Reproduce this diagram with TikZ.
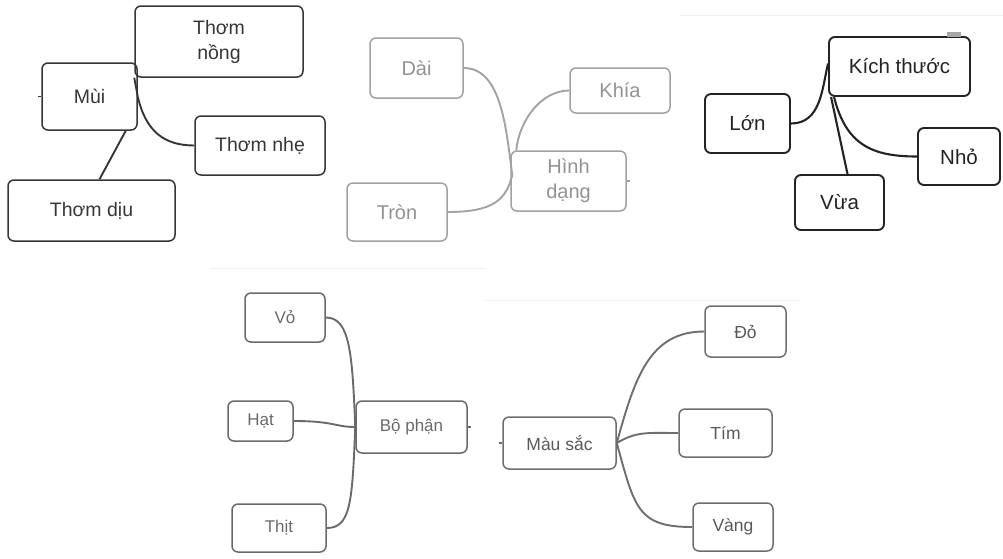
\documentclass[tikz,border=0pt]{standalone}
\usepackage{fontspec}
\setmainfont{Liberation Sans}
\usetikzlibrary{calc}
\definecolor{cA}{HTML}{363636}
\definecolor{cB}{HTML}{A2A2A2}
\definecolor{cC}{HTML}{232323}
\definecolor{cD}{HTML}{6A6A6A}
\definecolor{cE}{HTML}{6E6E6E}
\tikzset{
  box/.style={draw, rounded corners=6pt, inner sep=0pt, align=center, line width=1.5pt},
  gA/.style={box, draw=cA, text=cA, font=\fontsize{19.5}{25}\selectfont},
  gB/.style={box, draw=cB, text=cB!90!black, font=\fontsize{20}{25}\selectfont},
  gC/.style={box, draw=cC, text=cC, line width=1.9pt, font=\fontsize{20.5}{24}\selectfont},
  gD/.style={box, draw=cD, text=cD, font=\fontsize{17}{20}\selectfont},
  gE/.style={box, draw=cE, text=cE!80!black, font=\fontsize{17.5}{20}\selectfont},
  lA/.style={draw=cA, line width=1.9pt},
  lB/.style={draw=cB, line width=1.9pt},
  lC/.style={draw=cC, line width=2.1pt},
  lD/.style={draw=cD, line width=1.9pt},
  lE/.style={draw=cE, line width=1.9pt},
  faint/.style={draw=black!6, line width=0.8pt}
}
\begin{document}
\begin{tikzpicture}[x=1pt,y=-1pt]
\useasboundingbox (0,0) rectangle (1003,558);
% faint separators
\draw[faint] (680,15) -- (1003,15);
\draw[faint] (210,268) -- (485,268);
\draw[faint] (485,300) -- (800,300);

% ---- Group 1: Mui
\node[gA, minimum width=95pt, minimum height=67pt] (mui) at (89.5,96.5) {Mùi};
\node[gA, minimum width=168pt, minimum height=71pt] (tnong) at (219,41.5) {Thơm\\nồng};
\node[gA, minimum width=130pt, minimum height=59pt] (tnhe) at (260,145.5) {Thơm nhẹ};
\node[gA, minimum width=167pt, minimum height=61pt] (tdiu) at (91.5,210.5) {Thơm dịu};
\draw[lA] (mui.east) -- (tnong.south west);
\draw[lA] (mui.east) .. controls +(8,35) and +(-30,0) .. (tnhe.west);
\draw[lA] ($(mui.south east)+(-12,0)$) -- ($(tdiu.north)+(8,0)$);
\draw[lA] (mui.west) -- +(-3,0);

% ---- Group 2: Hinh dang
\node[gB, minimum width=93pt, minimum height=60pt] (dai) at (416.5,68) {Dài};
\node[gB, minimum width=100pt, minimum height=45pt] (khia) at (620,90.5) {Khía};
\node[gB, minimum width=115pt, minimum height=60pt] (hd) at (568.5,181) {Hình\\dạng};
\node[gB, minimum width=100pt, minimum height=58pt] (tron) at (397,212) {Tròn};
\coordinate (hdin) at ($(hd.west)+(2,-6)$);
\draw[lB] (dai.east) .. controls +(38,0) and +(-6,-45) .. (hdin);
\draw[lB] (khia.west) .. controls +(-28,0) and +(3,-30) .. ($(hd.north west)+(6,0)$);
\draw[lB] (tron.east) .. controls +(45,0) and +(-6,25) .. (hdin);
\draw[lB] (hd.east) -- +(3,0);

% ---- Group 3: Kich thuoc
\node[gC, minimum width=141pt, minimum height=59pt] (kt) at (899.5,66.5) {Kích thước};
\node[gC, minimum width=85pt, minimum height=59pt] (lon) at (747.5,123.5) {Lớn};
\node[gC, minimum width=82pt, minimum height=57pt] (nho) at (959,156.5) {Nhỏ};
\node[gC, minimum width=89pt, minimum height=55pt] (vua) at (839.5,202.5) {Vừa};
\fill[black!35] (947,32) rectangle (961,36.5);
\draw[lC] (lon.east) .. controls +(30,0) and +(-6,25) .. ($(kt.west)+(0,-3)$);
\draw[lC] ($(kt.south west)+(6,0)$) .. controls +(12,48) and +(-45,0) .. (nho.west);
\draw[lC] ($(kt.south west)+(3,0)$) -- ($(vua.north)+(8,0)$);

% ---- Group 4: Bo phan
\node[gD, minimum width=80pt, minimum height=49pt] (vo) at (285,317.5) {Vỏ};
\node[gD, minimum width=65pt, minimum height=40pt] (hat) at (260.5,421) {Hạt};
\node[gD, minimum width=111pt, minimum height=52pt] (bp) at (411.5,427) {Bộ phận};
\node[gD, minimum width=94pt, minimum height=48pt] (thit) at (279,528) {Thịt};
\draw[lD] (vo.east) .. controls +(24,0) and +(-3,-75) .. (bp.west);
\draw[lD] (hat.east) .. controls +(40,0) and +(-20,0) .. (bp.west);
\draw[lD] (thit.east) .. controls +(24,0) and +(-3,75) .. (bp.west);
\draw[lD] (bp.east) -- +(3,0);

% ---- Group 5: Mau sac
\node[gE, minimum width=113pt, minimum height=52pt] (ms) at (559.5,443) {Màu sắc};
\node[gE, minimum width=81pt, minimum height=51pt] (do) at (745.5,331.5) {Đỏ};
\node[gE, minimum width=93pt, minimum height=48pt] (tim) at (725.5,433) {Tím};
\node[gE, minimum width=80pt, minimum height=48pt] (vang) at (733,527) {Vàng};
\draw[lE] (ms.east) .. controls +(18,-65) and +(-55,0) .. (do.west);
\draw[lE] (ms.east) .. controls +(20,-12) and +(-30,0) .. (tim.west);
\draw[lE] (ms.east) .. controls +(18,65) and +(-55,0) .. (vang.west);
\draw[lE] (ms.west) -- +(-3,0);
\end{tikzpicture}
\end{document}
